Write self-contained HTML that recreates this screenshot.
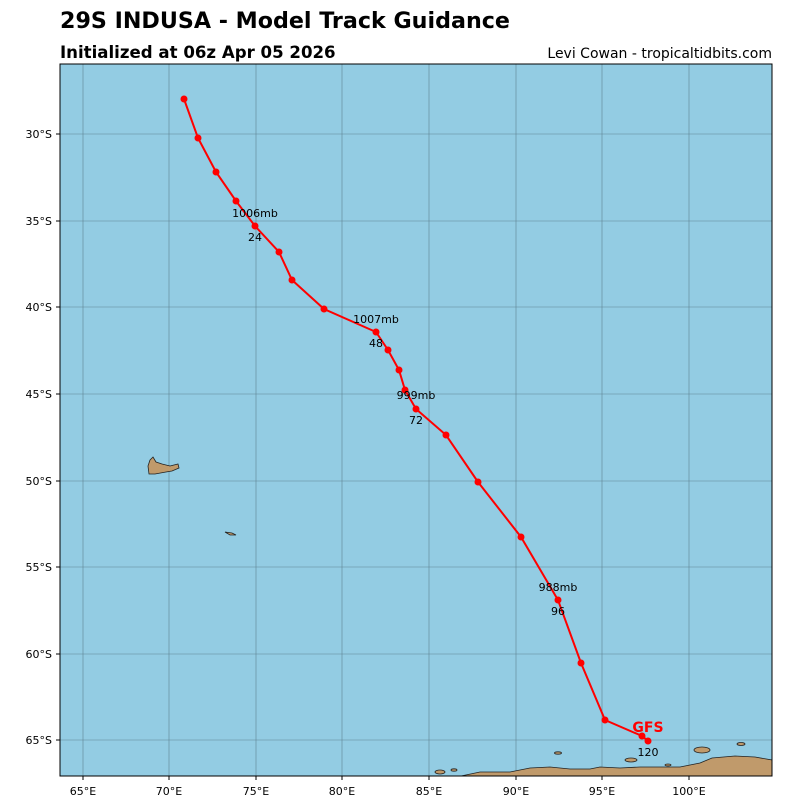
<!DOCTYPE html>
<html><head><style>
body{margin:0;background:#fff;}
svg{display:block;font-family:"DejaVu Sans","Liberation Sans",sans-serif;}
</style></head><body>
<svg width="800" height="800" viewBox="0 0 800 800">
<rect width="800" height="800" fill="#fff"/>
<text x="60" y="28" font-size="22.2" font-weight="bold">29S INDUSA - Model Track Guidance</text>
<text x="60" y="58" font-size="16.6" font-weight="bold">Initialized at 06z Apr 05 2026</text>
<text x="772" y="58" font-size="14" text-anchor="end">Levi Cowan - tropicaltidbits.com</text>
<rect x="60" y="64" width="712" height="712" fill="#93cce3"/>
<g stroke="#2a3a44" stroke-width="0.6" opacity="0.5">
<line x1="83" y1="64" x2="83" y2="776"/><line x1="169" y1="64" x2="169" y2="776"/><line x1="256" y1="64" x2="256" y2="776"/><line x1="342" y1="64" x2="342" y2="776"/><line x1="429" y1="64" x2="429" y2="776"/><line x1="516" y1="64" x2="516" y2="776"/><line x1="602" y1="64" x2="602" y2="776"/><line x1="689" y1="64" x2="689" y2="776"/>
<line x1="60" y1="134" x2="772" y2="134"/><line x1="60" y1="221" x2="772" y2="221"/><line x1="60" y1="307" x2="772" y2="307"/><line x1="60" y1="394" x2="772" y2="394"/><line x1="60" y1="481" x2="772" y2="481"/><line x1="60" y1="567" x2="772" y2="567"/><line x1="60" y1="654" x2="772" y2="654"/><line x1="60" y1="740" x2="772" y2="740"/>
</g>
<g fill="#c09a6b" stroke="#222" stroke-width="0.8">
<path d="M461,776 L480,772 L510,772 L530,768 L550,767 L570,769 L590,769 L600,767 L620,768 L640,767 L660,767 L680,767 L700,763 L712,758 L735,756 L755,757 L772,760 L772,776 Z"/>
<path d="M150,460 L153,457 L156,462 L162,464 L170,466 L178,464 L179,468 L172,471 L166,472 L155,474 L149,474 L148,466 Z"/>
<path d="M225,532 L232,533 L236,535 L230,535 Z"/>
<ellipse cx="702" cy="750" rx="8" ry="3"/><ellipse cx="631" cy="760" rx="6" ry="2"/><ellipse cx="558" cy="753" rx="3.5" ry="1.2"/><ellipse cx="440" cy="772" rx="5" ry="2"/><ellipse cx="454" cy="770" rx="3" ry="1.2"/><ellipse cx="741" cy="744" rx="4" ry="1.5"/><ellipse cx="668" cy="765" rx="3" ry="1"/>
</g>
<rect x="60" y="64" width="712" height="712" fill="none" stroke="#000" stroke-width="1"/>
<polyline fill="none" stroke="#f00" stroke-width="2" points="184,99 198,138 216,172 236,201 255,226 279,252 292,280 324,309 376,332 388,350 399,370 405,390 416,409 446,435 478,482 521,537 558,600 581,663 605,720 642,736 648,741"/>
<g fill="#f00">
<circle cx="184" cy="99" r="3.5"/><circle cx="198" cy="138" r="3.5"/><circle cx="216" cy="172" r="3.5"/><circle cx="236" cy="201" r="3.5"/><circle cx="255" cy="226" r="3.5"/><circle cx="279" cy="252" r="3.5"/><circle cx="292" cy="280" r="3.5"/><circle cx="324" cy="309" r="3.5"/><circle cx="376" cy="332" r="3.5"/><circle cx="388" cy="350" r="3.5"/><circle cx="399" cy="370" r="3.5"/><circle cx="405" cy="390" r="3.5"/><circle cx="416" cy="409" r="3.5"/><circle cx="446" cy="435" r="3.5"/><circle cx="478" cy="482" r="3.5"/><circle cx="521" cy="537" r="3.5"/><circle cx="558" cy="600" r="3.5"/><circle cx="581" cy="663" r="3.5"/><circle cx="605" cy="720" r="3.5"/><circle cx="642" cy="736" r="3.5"/><circle cx="648" cy="741" r="3.5"/>
</g>
<g font-size="11" text-anchor="middle" fill="#000">
<text x="255" y="217">1006mb</text><text x="255" y="241">24</text>
<text x="376" y="323">1007mb</text><text x="376" y="347">48</text>
<text x="416" y="399">999mb</text><text x="416" y="424">72</text>
<text x="558" y="591">988mb</text><text x="558" y="615">96</text>
<text x="648" y="756">120</text>
</g>
<text x="648" y="732" font-size="14" font-weight="bold" fill="#f00" text-anchor="middle">GFS</text>
<g font-size="11" text-anchor="middle">
<text x="83" y="795">65°E</text><text x="169" y="795">70°E</text><text x="256" y="795">75°E</text><text x="342" y="795">80°E</text><text x="429" y="795">85°E</text><text x="516" y="795">90°E</text><text x="602" y="795">95°E</text><text x="689" y="795">100°E</text>
</g>
<g stroke="#000" stroke-width="1">
<line x1="83" y1="776" x2="83" y2="780"/><line x1="169" y1="776" x2="169" y2="780"/><line x1="256" y1="776" x2="256" y2="780"/><line x1="342" y1="776" x2="342" y2="780"/><line x1="429" y1="776" x2="429" y2="780"/><line x1="516" y1="776" x2="516" y2="780"/><line x1="602" y1="776" x2="602" y2="780"/><line x1="689" y1="776" x2="689" y2="780"/>
<line x1="56" y1="134" x2="60" y2="134"/><line x1="56" y1="221" x2="60" y2="221"/><line x1="56" y1="307" x2="60" y2="307"/><line x1="56" y1="394" x2="60" y2="394"/><line x1="56" y1="481" x2="60" y2="481"/><line x1="56" y1="567" x2="60" y2="567"/><line x1="56" y1="654" x2="60" y2="654"/><line x1="56" y1="740" x2="60" y2="740"/>
</g>
<g font-size="11" text-anchor="end">
<text x="52" y="138">30°S</text><text x="52" y="225">35°S</text><text x="52" y="311">40°S</text><text x="52" y="398">45°S</text><text x="52" y="485">50°S</text><text x="52" y="571">55°S</text><text x="52" y="658">60°S</text><text x="52" y="744">65°S</text>
</g>
</svg>
</body></html>
